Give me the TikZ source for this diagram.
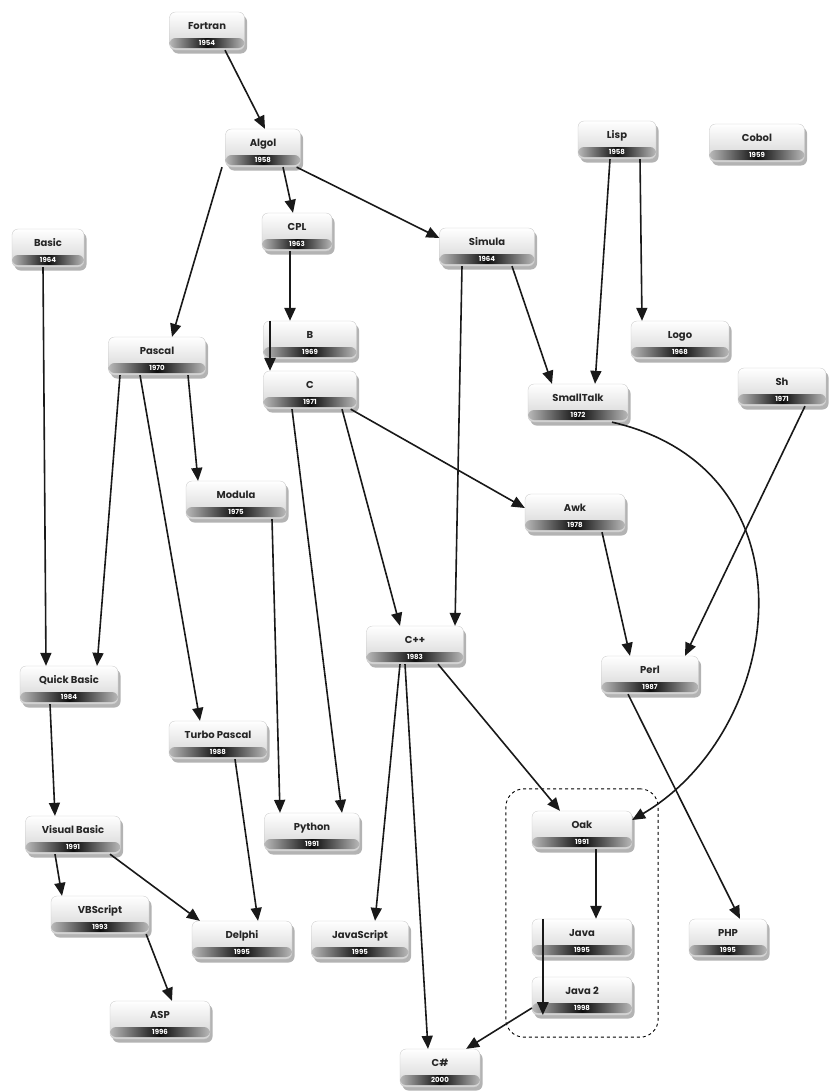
\documentclass[tikz,border=0pt]{standalone}
\usepackage{fontspec}
\setmainfont{Poppins}
\usetikzlibrary{arrows.meta,shadows,fit}
\begin{document}
\begin{tikzpicture}[x=1pt,y=-1pt,
  yr/.store in=\yr,
  lang/.style={draw=gray!45, line width=0.3pt, rounded corners=6pt,
    top color=white, bottom color=gray!35, minimum width=#1,
    inner xsep=2pt, inner ysep=3pt, text height=14pt, text depth=18pt,
    font=\fontsize{10}{11}\selectfont\bfseries, text=black!85,
    drop shadow={opacity=0.6, shadow xshift=2.5pt, shadow yshift=-3.5pt},
    path picture={
      \shade[left color=gray!55, right color=gray!55, middle color=black!95]
        ([yshift=2pt]path picture bounding box.south west) rectangle
        ([yshift=12pt]path picture bounding box.south east);
      \node[text=white, font=\fontsize{7}{7}\selectfont\bfseries, inner sep=0pt,
        text height=5pt, text depth=0pt]
        at ([yshift=7pt]path picture bounding box.south) {\yr};}},
  lang/.default=80pt,
  conn/.style={-{Triangle[length=13pt,width=11pt]}, line width=1.6pt, black!90},
  thickconn/.style={conn, line width=2.6pt},
  group/.style={draw, dashed, line width=0.9pt, rounded corners=18pt, inner xsep=26pt, inner ysep=22pt}]
\useasboundingbox (0,0) rectangle (829,1092);

\node[lang=75pt, yr=1954] (fortran) at (207,31) {Fortran};
\node[lang=75pt, yr=1958] (algol) at (263,148) {Algol};
\node[lang=70pt, yr=1963] (cpl) at (297,232) {CPL};
\node[lang=72pt, yr=1964] (basic) at (48,248) {Basic};
\node[lang=95pt, yr=1964] (simula) at (487,247) {Simula};
\node[lang=78pt, yr=1958] (lisp) at (617,140) {Lisp};
\node[lang=95pt, yr=1959] (cobol) at (757,143) {Cobol};
\node[lang=98pt, yr=1968] (logo) at (680,340) {Logo};
\node[lang=97pt, yr=1970] (pascal) at (157,356) {Pascal};
\node[lang=93pt, yr=1969] (b) at (310,340) {B};
\node[lang=93pt, yr=1971] (c) at (310,390) {C};
\node[lang=88pt, yr=1971] (sh) at (782,387) {Sh};
\node[lang=100pt, yr=1972] (st) at (578,403) {SmallTalk};
\node[lang=100pt, yr=1975] (modula) at (236,500) {Modula};
\node[lang=100pt, yr=1978] (awk) at (575,513) {Awk};
\node[lang=97pt, yr=1983] (cpp) at (415,645) {C++};
\node[lang=97pt, yr=1987] (perl) at (650,675) {Perl};
\node[lang=98pt, yr=1984] (qb) at (69,685) {Quick Basic};
\node[lang=98pt, yr=1988] (turbo) at (218,740) {Turbo Pascal};
\node[lang=95pt, yr=1991] (vb) at (73,835) {Visual Basic};
\node[lang=95pt, yr=1991] (python) at (312,832) {Python};
\node[lang=100pt, yr=1991] (oak) at (582,830) {Oak};
\node[lang=98pt, yr=1993] (vbs) at (100,915) {VBScript};
\node[lang=100pt, yr=1995] (delphi) at (242,940) {Delphi};
\node[lang=97pt, yr=1995] (js) at (360,940) {JavaScript};
\node[lang=100pt, yr=1995] (java) at (582,938) {Java};
\node[lang=78pt, yr=1995] (php) at (728,938) {PHP};
\node[lang=100pt, yr=1996] (asp) at (160,1020) {ASP};
\node[lang=100pt, yr=1998] (java2) at (582,996) {Java 2};
\node[lang=80pt, yr=2000] (cs) at (440,1068) {C\#};

\node[group, fit=(oak)(java)(java2)] (javagroup) {};

\draw[conn] ([xshift=18pt]fortran.south) -- ([xshift=2pt]algol.north);
\draw[conn] ([xshift=-41pt]algol.south) -- ([xshift=15pt]pascal.north);
\draw[conn] ([xshift=20pt]algol.south) -- ([xshift=-4pt]cpl.north);
\draw[conn] ([xshift=-4pt]algol.south east) -- ([yshift=9pt]simula.west);
\draw[thickconn] ([xshift=-7pt]cpl.south) -- ([xshift=-20pt]b.north);
\draw[thickconn] ([xshift=-40pt]b.north) -- ([xshift=-40pt]c.north);
\draw[conn] ([xshift=-5pt]basic.south) -- ([xshift=-23pt]qb.north);
\draw[conn] ([xshift=-37pt]pascal.south) -- ([xshift=28pt]qb.north);
\draw[conn] ([xshift=-17pt]pascal.south) -- ([xshift=-18pt]turbo.north);
\draw[conn] ([xshift=31pt]pascal.south) -- ([xshift=-38pt]modula.north);
\draw[conn] ([xshift=-18pt]c.south) -- ([xshift=30pt]python.north);
\draw[conn] ([xshift=32pt]c.south) -- ([xshift=-15pt]cpp.north);
\draw[conn] ([xshift=-6pt]c.south east) -- ([yshift=5pt]awk.west);
\draw[conn] ([xshift=-25pt]simula.south) -- ([xshift=40pt]cpp.north);
\draw[conn] ([xshift=25pt]simula.south) -- ([xshift=-26pt]st.north);
\draw[conn] ([xshift=-7pt]lisp.south) -- ([xshift=17pt]st.north);
\draw[conn] ([xshift=23pt]lisp.south) -- ([xshift=-38pt]logo.north);
\draw[conn] ([xshift=23pt]sh.south) -- ([xshift=35pt]perl.north);
\draw[conn] ([xshift=27pt]awk.south) -- ([xshift=-20pt]perl.north);
\draw[conn] ([xshift=34pt]st.south) .. controls (820,470) and (785,730) .. ([yshift=10pt]oak.east);
\draw[conn] ([xshift=36pt]modula.south) -- ([xshift=-32pt]python.north);
\draw[conn] ([xshift=-15pt]cpp.south) -- ([xshift=15pt]js.north);
\draw[conn] ([xshift=-10pt]cpp.south) -- ([xshift=-12pt]cs.north);
\draw[conn] ([xshift=23pt]cpp.south) -- ([xshift=-22pt]oak.north);
\draw[conn] ([xshift=-22pt]perl.south) -- ([xshift=12pt]php.north);
\draw[conn] ([xshift=-19pt]qb.south) -- ([xshift=-18pt]vb.north);
\draw[conn] ([xshift=17pt]turbo.south) -- ([xshift=16pt]delphi.north);
\draw[conn] ([xshift=-18pt]vb.south) -- ([xshift=-38pt]vbs.north);
\draw[conn] ([xshift=37pt]vb.south) -- ([xshift=8pt]delphi.north west);
\draw[conn] ([xshift=-3pt]vbs.south east) -- ([xshift=12pt]asp.north);
\draw[thickconn] ([xshift=14pt]oak.south) -- ([xshift=14pt]java.north);
\draw[thickconn] ([xshift=11pt]java.north west) -- ([xshift=11pt]java2.south west);
\draw[conn] ([yshift=-12pt]java2.west) -- ([xshift=-14pt]cs.north east);
\end{tikzpicture}
\end{document}
